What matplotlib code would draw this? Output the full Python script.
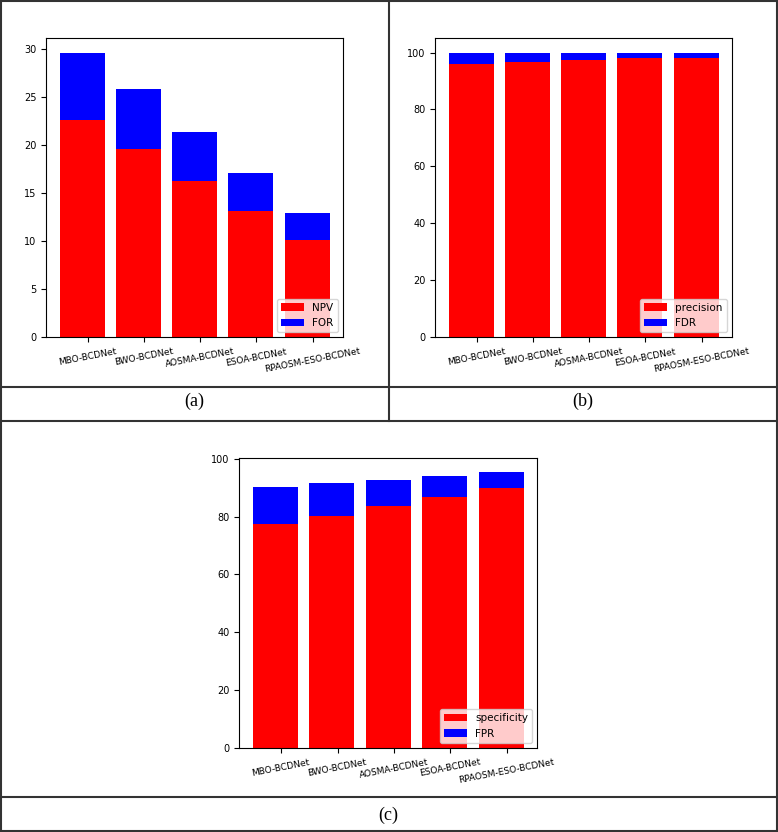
import matplotlib
matplotlib.use("Agg")
import matplotlib.pyplot as plt
import numpy as np
from matplotlib.lines import Line2D
from matplotlib import font_manager

models = ["MBO-BCDNet", "BWO-BCDNet", "AOSMA-BCDNet", "ESOA-BCDNet", "RPAOSM-ESO-BCDNet"]

npv = [22.6, 19.6, 16.2, 13.1, 10.1]
for_ = [7.0, 6.2, 5.1, 4.0, 2.8]

precision = [96.1, 96.6, 97.4, 98.0, 98.2]
fdr = [3.9, 3.4, 2.6, 2.0, 1.8]

specificity = [77.4, 80.3, 83.6, 86.9, 90.0]
fpr = [13.0, 11.3, 9.1, 7.2, 5.4]

names = {f.name for f in font_manager.fontManager.ttflist}
narrow = "Liberation Sans Narrow" if "Liberation Sans Narrow" in names else None
tick_family = [narrow, "DejaVu Sans"] if narrow else ["DejaVu Sans"]
tick_size = 7.5 if narrow else 6.5

W, H = 778, 832
fig = plt.figure(figsize=(W / 100, H / 100), dpi=100)


def fx(px):
    return px / W


def fy(py):
    return 1 - py / H


def panel(rect, bottom_vals, top_vals, lab1, lab2):
    ax = fig.add_axes(rect)
    x = np.arange(len(models))
    ax.bar(x, bottom_vals, width=0.8, color="red", label=lab1)
    ax.bar(x, top_vals, width=0.8, bottom=bottom_vals, color="blue", label=lab2)
    ax.set_xticks(x + 0.1)
    ax.set_xticklabels(models, rotation=11, fontsize=tick_size, family=tick_family)
    ax.tick_params(axis="y", labelsize=7)
    ax.legend(loc="lower right", fontsize=7.5, handlelength=2.2)
    return ax


panel([fx(46), fy(337.3), fx(343) - fx(46), fy(38.3) - fy(337.3)], npv, for_, "NPV", "FOR")
panel([fx(435.3), fy(337.3), fx(732) - fx(435.3), fy(38.3) - fy(337.3)], precision, fdr, "precision", "FDR")
panel([fx(239.3), fy(748), fx(537.3) - fx(239.3), fy(458.3) - fy(748)], specificity, fpr, "specificity", "FPR")

# table borders
lc = "#333333"
lw = 1.5


def hline(y, x0=1, x1=777):
    fig.add_artist(Line2D([fx(x0), fx(x1)], [fy(y), fy(y)], color=lc, lw=lw))


def vline(x, y0=1, y1=831):
    fig.add_artist(Line2D([fx(x), fx(x)], [fy(y0), fy(y1)], color=lc, lw=lw))


hline(1)
hline(831)
hline(386.7)
hline(421.3)
hline(796.7)
vline(1)
vline(777)
vline(389, 1, 421.3)

cap = dict(ha="center", va="center", fontsize=13, family="Liberation Serif")
fig.text(fx(194), fy(401), "(a)", **cap)
fig.text(fx(583), fy(401), "(b)", **cap)
fig.text(fx(388), fy(815), "(c)", **cap)

fig.savefig("out.png", dpi=100)
